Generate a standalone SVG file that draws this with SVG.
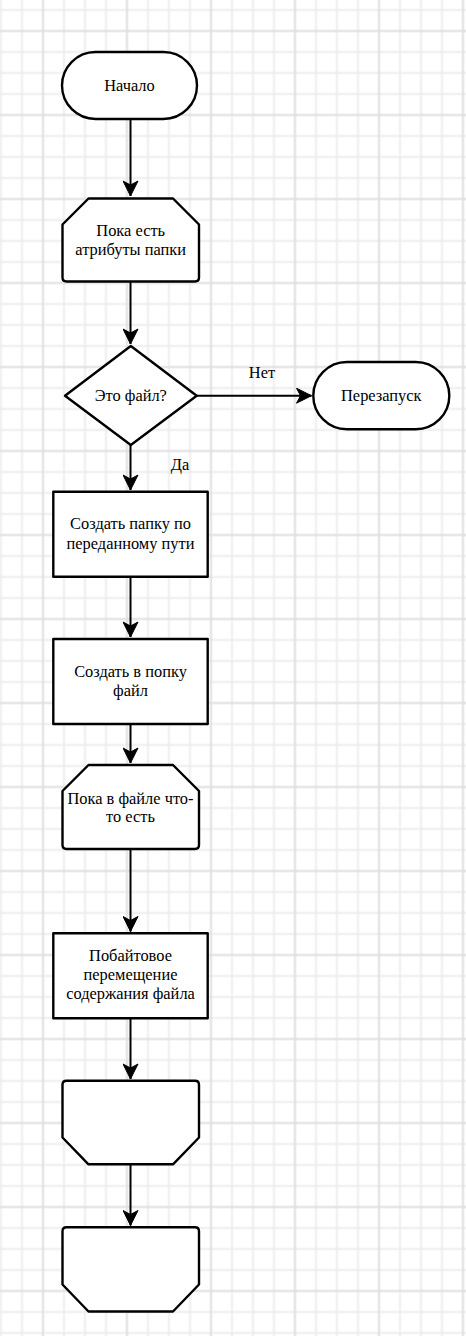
<svg xmlns="http://www.w3.org/2000/svg" width="466" height="1336" viewBox="0 0 466 1336">
<style>
.sh{fill:#fff;stroke:#000;stroke-width:2.4;stroke-linejoin:round}
.t{font-family:'Liberation Serif','Times New Roman','DejaVu Serif',serif;font-size:16.4px;fill:#000;text-anchor:middle}
.c{fill:none;stroke:#000;stroke-width:2}
.ah{fill:#000;stroke:#000;stroke-width:1;stroke-linejoin:miter}
.mn{stroke:#ededed;stroke-width:2}
.mj{stroke:#dfdfdf;stroke-width:2}
</style>
<defs>
<pattern id="grid" patternUnits="userSpaceOnUse" x="-9.5" y="-0.5" width="84" height="84">
<path class="mn" d="M10.5,0V84M31.5,0V84M73.5,0V84M0,10.5H84M0,52.5H84M0,73.5H84"/>
<path class="mj" d="M52.5,0V84M0,31.5H84"/>
</pattern>
<marker id="arr" markerUnits="userSpaceOnUse" viewBox="-16 -8 17 16" refX="0" refY="0" markerWidth="17" markerHeight="16" orient="auto">
<path class="ah" d="M0,0L-15,-7.5L-11,0L-15,7.5Z"/>
</marker>
</defs>
<rect width="466" height="1336" fill="#fff"/>
<rect width="466" height="1336" fill="url(#grid)"/>
<g id="connectors">
<path class="c" d="M130.5,119V196" marker-end="url(#arr)"/>
<path class="c" d="M130.5,282V344" marker-end="url(#arr)"/>
<path class="c" d="M197,395.7H311.5" marker-end="url(#arr)"/>
<path class="c" d="M130.5,445V490" marker-end="url(#arr)"/>
<path class="c" d="M130.5,577V637" marker-end="url(#arr)"/>
<path class="c" d="M130.5,724V763" marker-end="url(#arr)"/>
<path class="c" d="M130.5,849V931.5" marker-end="url(#arr)"/>
<path class="c" d="M130.5,1018V1079" marker-end="url(#arr)"/>
<path class="c" d="M130.5,1164V1225.5" marker-end="url(#arr)"/>
<text class="t" x="262" y="378.3">Нет</text>
<text class="t" x="180" y="470">Да</text>
</g>
<g id="start">
<rect class="sh" x="62" y="52" width="135" height="67" rx="33.5"/>
<text class="t" x="129.5" y="90.5">Начало</text>
</g>
<g id="loop1">
<path class="sh" d="M88.5,198.5H173L199,224.5V277.5Q199,281.5 195,281.5H66.5Q62.5,281.5 62.5,277.5V224.5Z"/>
<text class="t" x="130.7" y="235.5">Пока есть</text>
<text class="t" x="130.7" y="254.7">атрибуты папки</text>
</g>
<g id="decision">
<path class="sh" d="M130.8,346L196.7,395.7L130.8,445L65,395.7Z"/>
<text class="t" x="130.8" y="401">Это файл?</text>
</g>
<g id="restart">
<rect class="sh" x="313.3" y="362" width="136" height="67.3" rx="33.6"/>
<text class="t" x="381.3" y="401">Перезапуск</text>
</g>
<g id="mkdir">
<rect class="sh" x="53.3" y="491.7" width="154.4" height="85"/>
<text class="t" x="130.5" y="529.3">Создать папку по</text>
<text class="t" x="130.5" y="548.5">переданному пути</text>
</g>
<g id="mkfile">
<rect class="sh" x="53.3" y="639" width="154.4" height="85"/>
<text class="t" x="130.5" y="676.5">Создать в попку</text>
<text class="t" x="130.5" y="695.5">файл</text>
</g>
<g id="loop2">
<path class="sh" d="M88.5,765H173L199,791V845Q199,849 195,849H66.5Q62.5,849 62.5,845V791Z"/>
<text class="t" x="130.5" y="803.8">Пока в файле что-</text>
<text class="t" x="130.5" y="822">то есть</text>
</g>
<g id="copy">
<rect class="sh" x="53.3" y="933.3" width="154.4" height="85"/>
<text class="t" x="130.5" y="960.7">Побайтовое</text>
<text class="t" x="130.5" y="980">перемещение</text>
<text class="t" x="130.5" y="999.3">содержания файла</text>
</g>
<g id="loopend1">
<path class="sh" d="M66.5,1080.7H195Q199,1080.7 199,1084.7V1137.5L173,1164.3H88.5L62.5,1137.5V1084.7Q62.5,1080.7 66.5,1080.7Z"/>
</g>
<g id="loopend2">
<path class="sh" d="M66.5,1227.3H195Q199,1227.3 199,1231.3V1284.5L173,1311.5H88.5L62.5,1284.5V1231.3Q62.5,1227.3 66.5,1227.3Z"/>
</g>
</svg>
